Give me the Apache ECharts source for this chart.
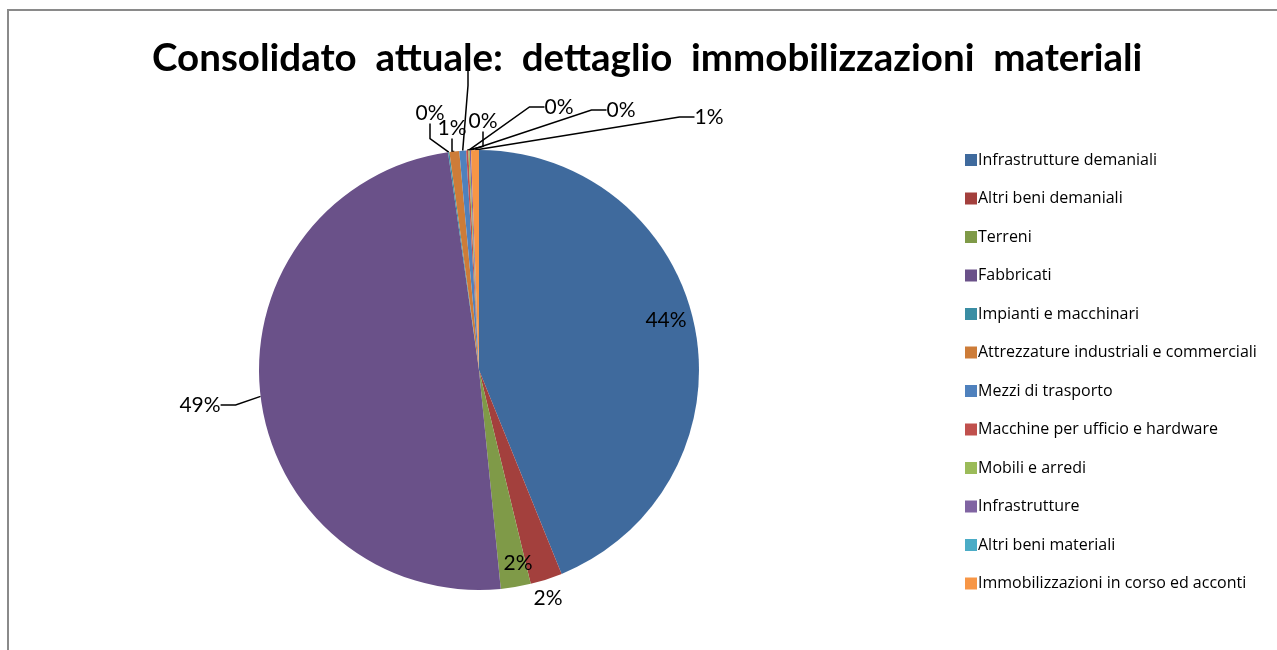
<!DOCTYPE html>
<html>
<head>
<meta charset="utf-8">
<script src="https://cdn.jsdelivr.net/npm/echarts@6/dist/echarts.min.js"></script>
<style>
html,body{margin:0;padding:0;background:#fff;}
#chart{width:1277px;height:650px;}
</style>
</head>
<body>
<div id="chart"></div>
<script>
// ---- data ----
const titleText = 'Consolidato  attuale:  dettaglio  immobilizzazioni  materiali';
const categories = [
  'Infrastrutture demaniali',
  'Altri beni demaniali',
  'Terreni',
  'Fabbricati',
  'Impianti e macchinari',
  'Attrezzature industriali e commerciali',
  'Mezzi di trasporto',
  'Macchine per ufficio e hardware',
  'Mobili e arredi',
  'Infrastrutture',
  'Altri beni materiali',
  'Immobilizzazioni in corso ed acconti'
];
const values = [43.9, 2.35, 2.2, 49.36, 0.1, 0.72, 0.5, 0.15, 0.1, 0.1, 0, 0.58];

// ---- styling ----
const colors = ['#3F6A9D', '#A3403D', '#7F9A48', '#6A5189', '#3A8DA3', '#CD7C38',
                '#4F81BD', '#C0504D', '#9BBB59', '#8064A2', '#4BACC6', '#F79646'];
// label placement (text centres), per slice index
const labelPos = {
  0: [666, 320], 1: [548, 598], 2: [518, 563], 3: [200, 405],
  4: [430, 113], 5: [452, 128], 6: [468, 60], 7: [483, 121],
  8: [559, 107], 9: [621, 110], 11: [709, 117]
};
const noLine = {0: true, 1: true, 2: true};
const hiddenText = {6: true}; // label covered by the title in the original

const chart = echarts.init(document.getElementById('chart'), null, {renderer: 'canvas'});

const data = categories.map((name, i) => {
  const d = {name: name, value: values[i], itemStyle: {color: colors[i]}};
  if (!(i in labelPos)) {
    d.label = {show: false};
    d.labelLine = {show: false};
  } else if (noLine[i]) {
    d.labelLine = {show: false};
  }
  if (hiddenText[i]) d.label = {color: 'rgba(0,0,0,0)'};
  return d;
});

const option = {
  animation: false,
  backgroundColor: '#fff',
  title: {
    text: titleText,
    left: 152,
    top: 39,
    padding: 0,
    textStyle: {
      fontFamily: 'Lato',
      fontWeight: 'bold',
      fontSize: 38.5,
      color: '#000'
    },
    z: 10
  },
  legend: {
    orient: 'vertical',
    left: 960,
    top: 147,
    itemWidth: 12,
    itemHeight: 12,
    itemGap: 22.5,
    icon: 'rect',
    textStyle: {fontFamily: 'Open Sans', fontSize: 16, color: '#000', padding: [0, 0, 0, -4]},
    data: categories
  },
  graphic: [
    {type: 'line', shape: {x1: 8, y1: 10, x2: 1277, y2: 10}, style: {stroke: '#8a8a8a', lineWidth: 2}, silent: true},
    {type: 'line', shape: {x1: 8, y1: 9, x2: 8, y2: 650}, style: {stroke: '#8a8a8a', lineWidth: 2}, silent: true}
  ],
  series: [{
    type: 'pie',
    center: [479, 370],
    radius: 220,
    startAngle: 90,
    clockwise: true,
    avoidLabelOverlap: false,
    itemStyle: {borderWidth: 0},
    label: {
      show: true,
      fontFamily: 'Lato',
      fontSize: 21,
      color: '#000',
      formatter: p => Math.round(p.percent) + '%'
    },
    labelLine: {
      show: true,
      length: 15,
      length2: 15,
      lineStyle: {color: '#000', width: 1.5}
    },
    labelLayout: function (params) {
      const pos = labelPos[params.dataIndex];
      if (!pos) return {};
      return {x: pos[0], y: pos[1], align: 'center', verticalAlign: 'middle'};
    },
    data: data
  }]
};
chart.setOption(option);
</script>
</body>
</html>
